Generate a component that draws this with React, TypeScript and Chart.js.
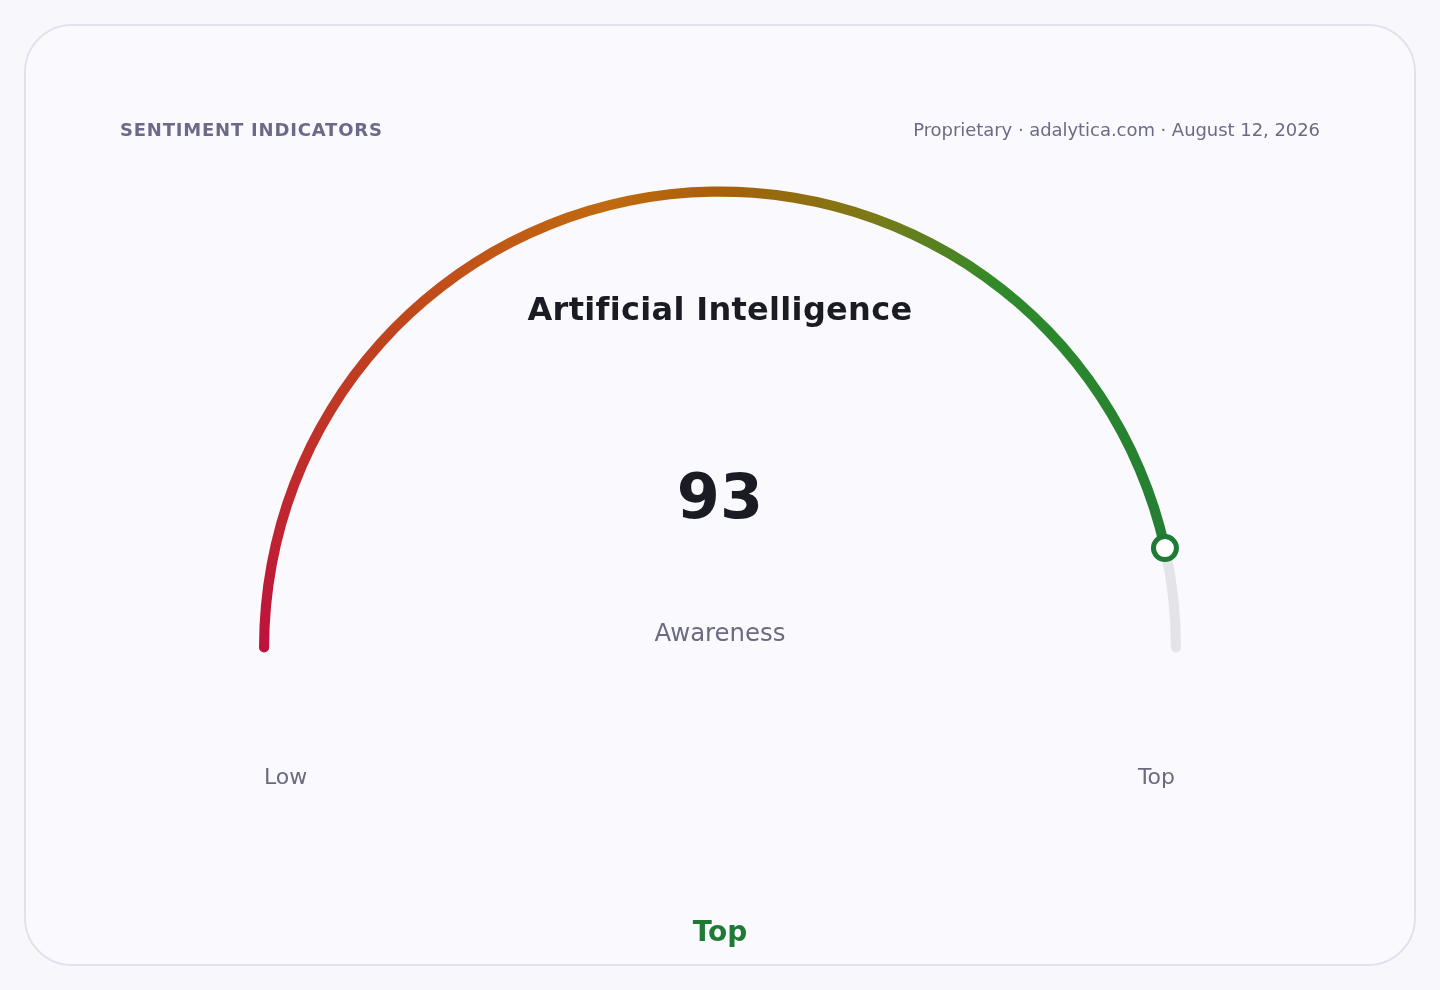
import React, { useEffect, useRef } from "react";
import { Chart, registerables } from "chart.js";

Chart.register(...registerables);

// gauge data
const gaugeLabels = ["Awareness", "Remaining"];
const gaugeValues = [93, 7];
const scaleEnds = ["Low", "Top"];
const rating = "Top";
const topic = "Artificial Intelligence";

const FONT = "'DejaVu Sans', Verdana, sans-serif";
const GREEN = "#1f7a36";
const TRACK = "#e4e4e8";

// colour stops along the half circle (0 = left end, 1 = right end)
const gradientStops: [number, string][] = [
  [0, "#be123c"],
  [0.27, "#c04a1a"],
  [0.42, "#c06a10"],
  [0.5, "#a86008"],
  [0.61, "#7a7a18"],
  [0.71, "#2e8a2a"],
  [1, "#1f7a36"],
];

function fillGradient(chart: Chart) {
  const a = chart.chartArea;
  if (!a) return "#be123c";
  const arc: any = chart.getDatasetMeta(0).data[0];
  const cx = arc && arc.x ? arc.x : (a.left + a.right) / 2;
  const cy = arc && arc.y ? arc.y : a.bottom;
  const g = (chart.ctx as any).createConicGradient(Math.PI, cx, cy);
  gradientStops.forEach(([f, c]) => g.addColorStop(f / 2, c));
  g.addColorStop(0.75, "#1f7a36");
  g.addColorStop(1, "#be123c");
  return g;
}

// round end caps + value marker
const markerPlugin = {
  id: "gaugeMarker",
  beforeDatasetsDraw(chart: Chart) {
    const meta = chart.getDatasetMeta(0);
    const first: any = meta.data[0];
    const last: any = meta.data[meta.data.length - 1];
    if (!first || !last) return;
    const ctx = chart.ctx;
    const r = (first.outerRadius + first.innerRadius) / 2;
    const w = (first.outerRadius - first.innerRadius) / 2;
    ctx.save();
    ctx.fillStyle = gradientStops[0][1];
    ctx.beginPath();
    ctx.arc(first.x + r * Math.cos(first.startAngle), first.y + r * Math.sin(first.startAngle), w, 0, Math.PI * 2);
    ctx.fill();
    ctx.fillStyle = TRACK;
    ctx.beginPath();
    ctx.arc(last.x + r * Math.cos(last.endAngle), last.y + r * Math.sin(last.endAngle), w, 0, Math.PI * 2);
    ctx.fill();
    ctx.restore();
  },
  afterDatasetsDraw(chart: Chart) {
    const arc: any = chart.getDatasetMeta(0).data[0];
    if (!arc) return;
    const { x, y, endAngle, outerRadius, innerRadius } = arc;
    const r = (outerRadius + innerRadius) / 2;
    const ctx = chart.ctx;
    ctx.save();
    ctx.beginPath();
    ctx.arc(x + r * Math.cos(endAngle), y + r * Math.sin(endAngle), 11.5, 0, Math.PI * 2);
    ctx.fillStyle = "#ffffff";
    ctx.fill();
    ctx.lineWidth = 5;
    ctx.strokeStyle = GREEN;
    ctx.stroke();
    ctx.restore();
  },
};

export default function App() {
  const canvasRef = useRef<HTMLCanvasElement | null>(null);

  useEffect(() => {
    document.body.style.margin = "0";
    document.body.style.background = "#f8f8fc";
    if (!canvasRef.current) return;
    const chart = new Chart(canvasRef.current, {
      type: "doughnut",
      data: {
        labels: gaugeLabels,
        datasets: [
          {
            data: gaugeValues,
            backgroundColor: (c: any) =>
              c.dataIndex === 0 ? fillGradient(c.chart) : TRACK,
            borderWidth: 0,
          },
        ],
      },
      options: {
        animation: false,
        responsive: true,
        maintainAspectRatio: false,
        events: [],
        rotation: -90,
        circumference: 180,
        radius: 461,
        cutout: "97.8%",
        layout: { padding: { left: 259, right: 259, top: 187, bottom: 343 } },
        plugins: {
          legend: { display: false },
          tooltip: { enabled: false },
        },
      },
      plugins: [markerPlugin],
    });
    return () => chart.destroy();
  }, []);

  const abs = (style: React.CSSProperties): React.CSSProperties => ({
    position: "absolute",
    whiteSpace: "nowrap",
    fontFamily: FONT,
    lineHeight: 1,
    ...style,
  });

  return (
    <div style={{ position: "relative", width: 1440, height: 990, overflow: "hidden", background: "#f8f8fc" }}>
      <div
        style={{
          position: "absolute",
          left: 24,
          top: 24,
          width: 1392,
          height: 942,
          boxSizing: "border-box",
          border: "2px solid #e2e2ef",
          borderRadius: 48,
          background: "#fafafe",
        }}
      />
      <div style={{ position: "absolute", left: 0, top: 0, width: 1440, height: 990 }}>
        <canvas ref={canvasRef} />
      </div>
      <div
        style={abs({
          left: 120,
          top: 121,
          fontSize: 18,
          fontWeight: 700,
          letterSpacing: 0.8,
          color: "#6b6a88",
        })}
      >
        SENTIMENT INDICATORS
      </div>
      <div style={abs({ right: 120, top: 121, fontSize: 18, letterSpacing: -0.05, color: "#6b6b84" })}>
        Proprietary · adalytica.com · August 12, 2026
      </div>
      <div
        style={abs({
          left: 0,
          width: 1440,
          textAlign: "center",
          top: 293,
          fontSize: 32,
          fontWeight: 700,
          letterSpacing: 0.3,
          color: "#1b1b24",
        })}
      >
        {topic}
      </div>
      <div
        style={abs({
          left: 0,
          width: 1440,
          textAlign: "center",
          top: 466,
          fontSize: 62,
          fontWeight: 700,
          color: "#1b1b24",
        })}
      >
        {gaugeValues[0]}
      </div>
      <div
        style={abs({
          left: 0,
          width: 1440,
          textAlign: "center",
          top: 621,
          fontSize: 24.4,
          color: "#6b6b80",
        })}
      >
        {gaugeLabels[0]}
      </div>
      <div style={abs({ left: 264, top: 766, fontSize: 22, color: "#6b6b80" })}>{scaleEnds[0]}</div>
      <div style={abs({ right: 1440 - 1175, top: 766, fontSize: 22, color: "#6b6b80" })}>{scaleEnds[1]}</div>
      <div
        style={abs({
          left: 0,
          width: 1440,
          textAlign: "center",
          top: 918,
          fontSize: 28,
          fontWeight: 700,
          color: GREEN,
        })}
      >
        {rating}
      </div>
    </div>
  );
}
